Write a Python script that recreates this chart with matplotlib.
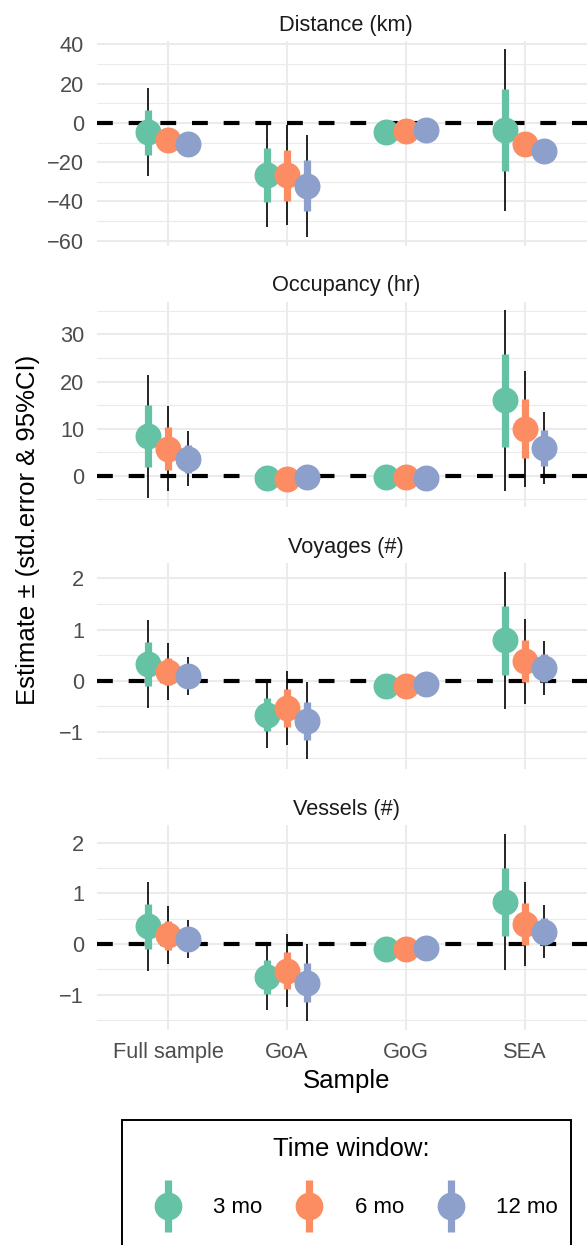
import numpy as np
import matplotlib.pyplot as plt
from matplotlib.lines import Line2D
from matplotlib.legend_handler import HandlerTuple
from matplotlib.patches import Rectangle

plt.rcParams['font.family'] = ['Liberation Sans', 'DejaVu Sans']

samples = ['Full sample', 'GoA', 'GoG', 'SEA']
windows = ['3 mo', '6 mo', '12 mo']
colors = ['#66C2A5', '#FC8D62', '#8DA0CB']
outcomes = ['Distance (km)', 'Occupancy (hr)', 'Voyages (#)', 'Vessels (#)']

# rows: sample, columns: 3 mo / 6 mo / 12 mo
dist_est = [[-4.8, -8.5, -10.6], [-26.6, -26.6, -32.0], [-4.6, -4.1, -3.6], [-3.6, -10.7, -14.1]]
dist_se = [[11.35, 2.5, 2.5], [13.6, 13.0, 13.1], [1.5, 1.5, 1.5], [21.0, 2.5, 2.5]]
dist_ci = [[22.35, 5.0, 5.0], [26.2, 25.3, 25.9], [3.0, 3.0, 3.0], [41.4, 5.0, 5.0]]

occ_est = [[8.45, 5.8, 3.6], [-0.5, -0.7, -0.3], [-0.15, -0.3, -0.35], [16.0, 10.0, 5.9]]
occ_se = [[6.6, 4.6, 2.95], [0.4, 0.4, 0.4], [0.3, 0.3, 0.3], [9.8, 6.25, 3.9]]
occ_ci = [[13.05, 9.0, 5.85], [0.8, 0.8, 0.8], [0.6, 0.6, 0.6], [19.2, 12.3, 7.65]]

voy_est = [[0.33, 0.18, 0.10], [-0.66, -0.53, -0.78], [-0.10, -0.10, -0.07], [0.79, 0.38, 0.25]]
voy_se = [[0.43, 0.27, 0.19], [0.325, 0.365, 0.375], [0.05, 0.05, 0.05], [0.675, 0.41, 0.27]]
voy_ci = [[0.855, 0.555, 0.37], [0.645, 0.715, 0.75], [0.1, 0.1, 0.1], [1.33, 0.825, 0.525]]

ves_est = [[0.35, 0.17, 0.10], [-0.65, -0.53, -0.77], [-0.10, -0.10, -0.08], [0.83, 0.39, 0.24]]
ves_se = [[0.44, 0.285, 0.19], [0.33, 0.365, 0.385], [0.05, 0.05, 0.05], [0.675, 0.42, 0.265]]
ves_ci = [[0.88, 0.57, 0.38], [0.655, 0.725, 0.76], [0.1, 0.1, 0.1], [1.345, 0.835, 0.52]]

panels = [
    (dist_est, dist_se, dist_ci, (-62.7, 42.0), [-60, -40, -20, 0, 20, 40], [-50, -30, -10, 10, 30]),
    (occ_est, occ_se, occ_ci, (-6.6, 37.0), [0, 10, 20, 30], [-5, 5, 15, 25, 35]),
    (voy_est, voy_se, voy_ci, (-1.71, 2.30), [-1, 0, 1, 2], [-1.5, -0.5, 0.5, 1.5]),
    (ves_est, ves_se, ves_ci, (-1.70, 2.36), [-1, 0, 1, 2], [-1.5, -0.5, 0.5, 1.5]),
]

W, H = 587, 1245
fig = plt.figure(figsize=(W / 100, H / 100), dpi=100)


def px(x, y, w, h):
    return [x / W, 1 - (y + h) / H, w / W, h / H]


tops = [40.5, 301.5, 563, 824.5]
xpos = np.arange(1, len(samples) + 1)
dodge = [-1 / 6, 0, 1 / 6]

for k, (est, se, ci, ylim, major, minor) in enumerate(panels):
    ax = fig.add_axes(px(96.6, tops[k], 499.4, 205.5))
    est, se, ci = np.array(est), np.array(se), np.array(ci)
    ax.axhline(0, color='black', lw=3.0, ls=(0, (3.8, 3.8)), zorder=1.5)
    for j in range(len(windows)):
        xs = xpos + dodge[j]
        ax.vlines(xs, est[:, j] - ci[:, j], est[:, j] + ci[:, j], color='black', lw=1.2,
                  capstyle='butt', zorder=2)
        ax.vlines(xs, est[:, j] - se[:, j], est[:, j] + se[:, j], color=colors[j], lw=5.2,
                  capstyle='butt', zorder=3)
        ax.plot(xs, est[:, j], 'o', ms=18.7, color=colors[j], mec='none', zorder=4)

    ax.set_xlim(0.4, 4.6)
    ax.set_ylim(*ylim)
    ax.set_yticks(major)
    ax.set_yticks(minor, minor=True)
    ax.set_xticks(xpos)
    ax.set_axisbelow(True)
    ax.grid(which='major', color='#EBEBEB', lw=1.5)
    ax.grid(which='minor', axis='y', color='#EBEBEB', lw=0.8)
    for s in ax.spines.values():
        s.set_visible(False)
    ax.tick_params(which='both', length=0, labelsize=15.7, labelcolor='#4D4D4D')
    ax.tick_params(axis='y', pad=9)
    ax.tick_params(axis='x', pad=8.8)
    ax.set_title(outcomes[k], fontsize=15.7, color='#1A1A1A', pad=7.2)
    if k < 3:
        ax.set_xticklabels([])
    else:
        ax.set_xticklabels(samples)
        ax.set_xlabel('Sample', fontsize=18.5, labelpad=4)

fig.text(28 / W, 1 - 530 / H, 'Estimate ± (std.error & 95%CI)', rotation=90,
         ha='center', va='center', fontsize=18.5)

# legend
handles = []
for c in colors:
    bar = Line2D([], [], color=c, marker='|', markersize=37, markeredgewidth=5.2, ls='None')
    dot = Line2D([], [], color=c, marker='o', markersize=20, mec='none', ls='None')
    handles.append((bar, dot))
fig.legend(handles, windows, handler_map={tuple: HandlerTuple(ndivide=1)},
           title='Time window:', title_fontsize=18.5, fontsize=16, ncol=3,
           frameon=False, loc='upper left', bbox_to_anchor=(145.5 / W, 1 - 1137 / H),
           borderpad=0, borderaxespad=0, handlelength=2.0, handletextpad=1.05,
           columnspacing=1.1, labelspacing=1.64)
fig.patches.append(Rectangle((122 / W, -0.02), (571 - 122) / W, 1 - 1120 / H + 0.02,
                             transform=fig.transFigure, fill=False, ec='black', lw=1.4))

fig.savefig('out.png', dpi=100)
